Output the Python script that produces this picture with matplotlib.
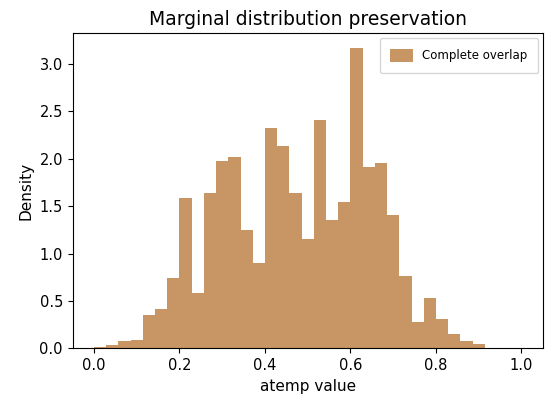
import matplotlib
matplotlib.use("Agg")
import matplotlib.pyplot as plt
import numpy as np

# density per bin (35 bins over 0..1)
n_bins = 35
lo, hi = 0.0, 1.0
density = [0.014, 0.03, 0.077, 0.092, 0.352, 0.416, 0.740, 1.589, 0.588,
           1.638, 1.977, 2.019, 1.254, 0.902, 2.329, 2.139, 1.642, 1.156,
           2.410, 1.353, 1.540, 3.168, 1.910, 1.952, 1.406, 0.765, 0.278,
           0.532, 0.307, 0.148, 0.077, 0.042, 0.0, 0.0, 0.0]

edges = np.linspace(lo, hi, n_bins + 1)
centers = (edges[:-1] + edges[1:]) / 2

fig = plt.figure(figsize=(5.5, 4.05), dpi=100)
ax = fig.add_axes([0.132, 0.140, 0.855, 0.778])

ax.hist(centers, bins=edges, weights=density, color="#c89664",
        label="Complete overlap")

ax.set_xlim(lo - 0.05, hi + 0.05)
ax.set_title("Marginal distribution preservation", fontsize=13.5)
ax.set_xlabel("atemp value", fontsize=11)
ax.set_ylabel("Density", fontsize=11)
ax.tick_params(labelsize=10.5)
ax.legend(loc="upper right", fontsize=8.5, borderpad=0.9, handlelength=1.9,
          handleheight=1.4, borderaxespad=0.4)

fig.savefig("out.png", dpi=100)
